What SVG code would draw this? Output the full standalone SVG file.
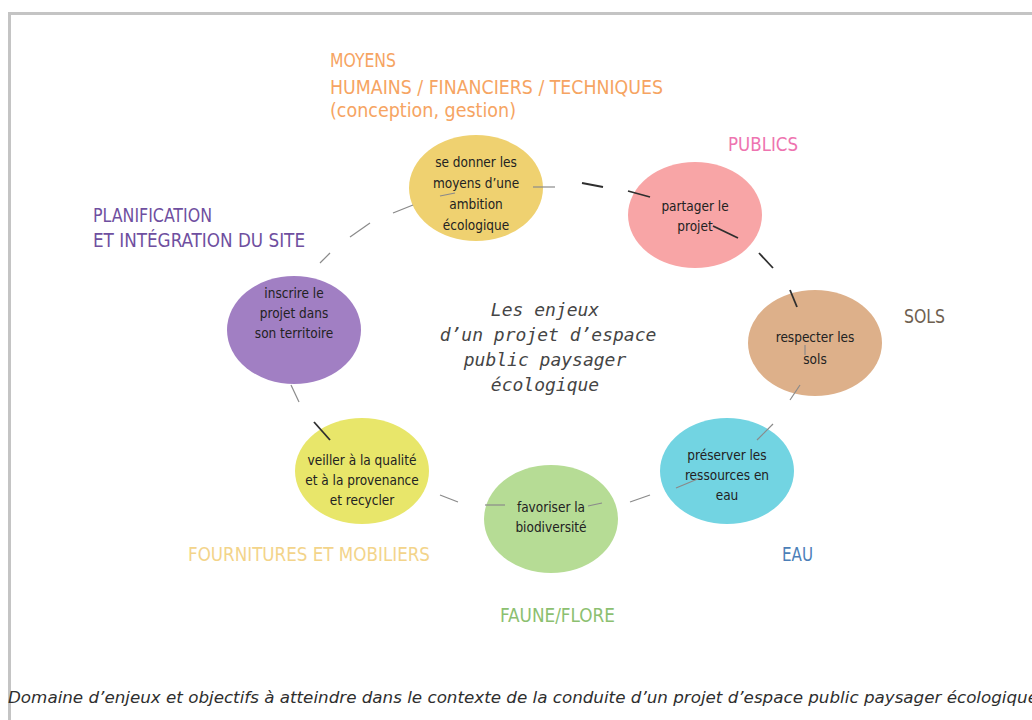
<svg xmlns="http://www.w3.org/2000/svg" width="1032" height="720" viewBox="0 0 1032 720">
<style>
.lbl{font-family:"DejaVu Sans Condensed","Liberation Sans Narrow","Liberation Sans",sans-serif;font-size:20px}
.nt{font-family:"DejaVu Sans Condensed","Liberation Sans",sans-serif;font-size:13.5px;fill:#222222;text-anchor:middle}
.ctr{font-family:"DejaVu Sans Mono","Liberation Mono",monospace;font-style:italic;font-size:18px;fill:#454545;text-anchor:middle}
.cap{font-family:"DejaVu Sans Condensed","Liberation Sans Narrow",sans-serif;font-style:italic;font-size:16px;fill:#2e2e2e}
.g{stroke:#8a8a8a;stroke-width:1.2;fill:none}
.d{stroke:#2e2e2e;stroke-width:1.8;fill:none}
</style>
<rect width="1032" height="720" fill="#ffffff"/>
<path d="M9.5,740 V13.5 H1040" fill="none" stroke="#c4c4c4" stroke-width="3"/>

<g id="moyens">
<ellipse cx="476" cy="188" rx="67" ry="53" fill="#efd170"/>
<text class="nt"><tspan x="476" y="167">se donner les</tspan><tspan x="476" y="188">moyens d’une</tspan><tspan x="476" y="209">ambition</tspan><tspan x="476" y="230">écologique</tspan></text>
</g>
<g id="publics">
<ellipse cx="695" cy="215" rx="67" ry="53" fill="#f8a5a6"/>
<text class="nt"><tspan x="695" y="211">partager le</tspan><tspan x="695" y="231">projet</tspan></text>
</g>
<g id="sols">
<ellipse cx="815" cy="343" rx="67" ry="53" fill="#ddb08a"/>
<text class="nt"><tspan x="815" y="342">respecter les</tspan><tspan x="815" y="364">sols</tspan></text>
</g>
<g id="eau">
<ellipse cx="727" cy="471" rx="67" ry="53" fill="#72d4e2"/>
<text class="nt"><tspan x="727" y="460">préserver les</tspan><tspan x="727" y="480">ressources en</tspan><tspan x="727" y="500">eau</tspan></text>
</g>
<g id="faune">
<ellipse cx="551" cy="519" rx="67" ry="54" fill="#b6dc95"/>
<text class="nt"><tspan x="551" y="512">favoriser la</tspan><tspan x="551" y="532">biodiversité</tspan></text>
</g>
<g id="fournitures">
<ellipse cx="362" cy="471" rx="67" ry="53" fill="#e8e66a"/>
<text class="nt"><tspan x="362" y="465">veiller à la qualité</tspan><tspan x="362" y="485">et à la provenance</tspan><tspan x="362" y="505">et recycler</tspan></text>
</g>
<g id="planification">
<ellipse cx="294" cy="330" rx="67" ry="54" fill="#a17fc3"/>
<text class="nt"><tspan x="294" y="298">inscrire le</tspan><tspan x="294" y="318">projet dans</tspan><tspan x="294" y="338">son territoire</tspan></text>
</g>

<g id="connectors">
<line class="g" x1="533" y1="187" x2="555" y2="187"/>
<line class="d" x1="582" y1="183" x2="603" y2="187"/>
<line class="d" x1="628" y1="191" x2="650" y2="197"/>
<line class="d" x1="713" y1="226" x2="738" y2="238"/>
<line class="d" x1="759" y1="253" x2="773" y2="268"/>
<line class="d" x1="790" y1="290" x2="797" y2="307"/>
<line class="g" x1="805" y1="345" x2="805" y2="355"/>
<line class="g" x1="800" y1="385" x2="790" y2="400"/>
<line class="g" x1="773" y1="424" x2="757" y2="440"/>
<line class="g" x1="676" y1="488" x2="700" y2="478"/>
<line class="g" x1="630" y1="502" x2="650" y2="495"/>
<line class="g" x1="588" y1="506" x2="602" y2="503"/>
<line class="g" x1="485" y1="505" x2="505" y2="505"/>
<line class="g" x1="440" y1="495" x2="458" y2="502"/>
<line class="d" x1="314" y1="422" x2="330" y2="440"/>
<line class="g" x1="291" y1="385" x2="299" y2="402"/>
<line class="g" x1="320" y1="263" x2="330" y2="253"/>
<line class="g" x1="350" y1="237" x2="370" y2="223"/>
<line class="g" x1="393" y1="213" x2="413" y2="205"/>
<line class="g" x1="440" y1="196" x2="455" y2="193"/>
</g>

<g id="labels">
<text class="lbl" fill="#f6a462"><tspan x="330" y="67" textLength="66" lengthAdjust="spacingAndGlyphs">MOYENS</tspan><tspan x="330" y="94" textLength="333" lengthAdjust="spacingAndGlyphs">HUMAINS / FINANCIERS / TECHNIQUES</tspan><tspan x="330" y="117" textLength="186" lengthAdjust="spacingAndGlyphs">(conception, gestion)</tspan></text>
<text class="lbl" fill="#ee74b0" x="728" y="151" textLength="70" lengthAdjust="spacingAndGlyphs">PUBLICS</text>
<text class="lbl" fill="#6f4fa0"><tspan x="93" y="222" textLength="119" lengthAdjust="spacingAndGlyphs">PLANIFICATION</tspan><tspan x="93" y="247" textLength="212" lengthAdjust="spacingAndGlyphs">ET INTÉGRATION DU SITE</tspan></text>
<text class="lbl" fill="#6e6050" x="904" y="323" textLength="41" lengthAdjust="spacingAndGlyphs">SOLS</text>
<text class="lbl" fill="#4c7fb8" x="782" y="561" textLength="31" lengthAdjust="spacingAndGlyphs">EAU</text>
<text class="lbl" fill="#f3d48a" x="188" y="561" textLength="242" lengthAdjust="spacingAndGlyphs">FOURNITURES ET MOBILIERS</text>
<text class="lbl" fill="#8cc070" x="500" y="622" textLength="115" lengthAdjust="spacingAndGlyphs">FAUNE/FLORE</text>
</g>

<g id="title">
<text class="ctr"><tspan x="545" y="316">Les enjeux</tspan><tspan x="548" y="341">d’un projet d’espace</tspan><tspan x="545" y="366">public paysager</tspan><tspan x="545" y="391">écologique</tspan></text>
</g>

<text class="cap" x="8" y="703" textLength="1030" lengthAdjust="spacingAndGlyphs">Domaine d’enjeux et objectifs à atteindre dans le contexte de la conduite d’un projet d’espace public paysager écologique</text>
</svg>
